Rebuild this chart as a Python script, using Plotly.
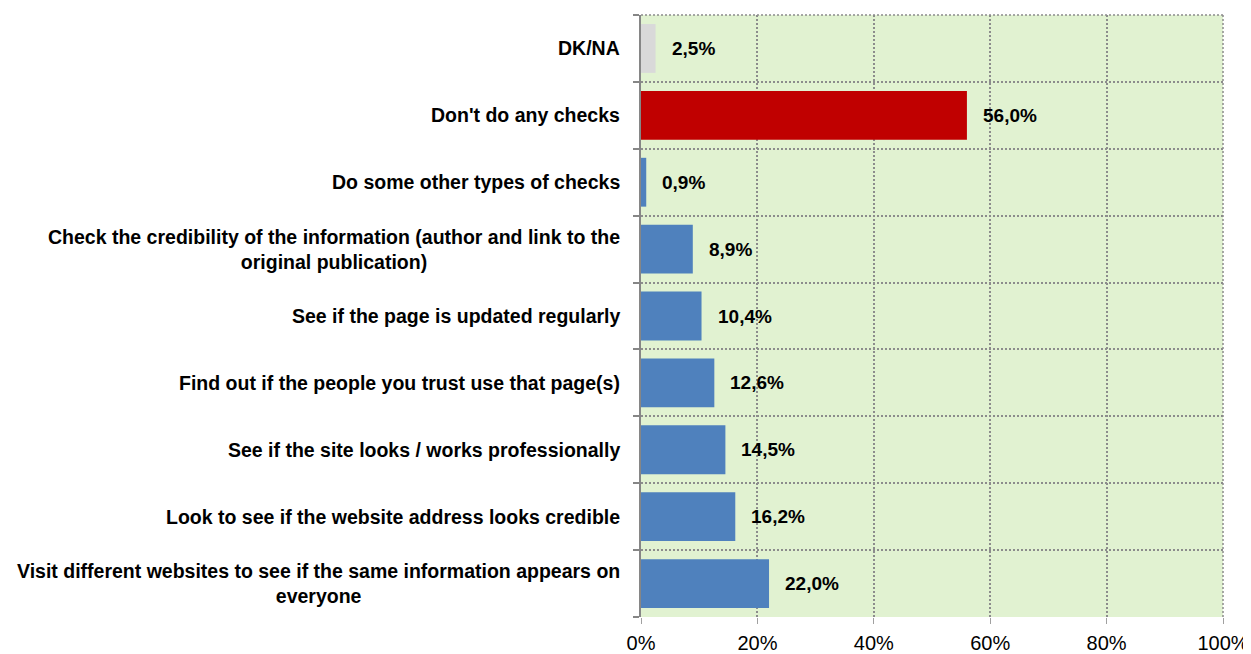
import plotly.graph_objects as go

# Data (bottom to top)
categories = [
    "Visit different websites to see if the same information appears on<br>everyone",
    "Look to see if the website address looks credible",
    "See if the site looks / works professionally",
    "Find out if the people you trust use that page(s)",
    "See if the page is updated regularly",
    "Check the credibility of the information (author and link to the<br>original publication)",
    "Do some other types of checks",
    "Don't do any checks",
    "DK/NA",
]
values = [22.0, 16.2, 14.5, 12.6, 10.4, 8.9, 0.9, 56.0, 2.5]
bar_colors = ["#4F81BD"] * 7 + ["#C00000", "#D9D9D9"]
x_ticks = [0, 20, 40, 60, 80, 100]

FONT = "Liberation Sans, Arial, sans-serif"
GRID = "#8C8C8C"

positions = list(range(len(categories)))

fig = go.Figure()
fig.add_trace(go.Bar(
    x=values,
    y=positions,
    orientation="h",
    marker=dict(color=bar_colors, line=dict(width=0)),
    width=0.73,
    hoverinfo="x",
))

# Data labels
for p, v in zip(positions, values):
    fig.add_annotation(
        x=v, y=p, xref="x", yref="y",
        text="<b>" + f"{v:.1f}%".replace(".", ",") + "</b>",
        showarrow=False, xanchor="left", xshift=14,
        font=dict(family=FONT, size=19, color="#000000"),
    )

# Category labels
for p, c in zip(positions, categories):
    fig.add_annotation(
        x=0, y=p, xref="paper", yref="y",
        text=f"<b>{c}</b>",
        showarrow=False, xanchor="right", align="center", xshift=-19,
        font=dict(family=FONT, size=19.5, color="#000000"),
    )

grid_style = dict(showgrid=True, gridcolor=GRID, gridwidth=1.5, griddash="2px,2px")

fig.update_xaxes(
    range=[0, 100],
    tickvals=x_ticks,
    ticktext=[f"{t}%" for t in x_ticks],
    tickfont=dict(family=FONT, size=20, color="#000000"),
    zeroline=False,
    showline=False,
    ticks="outside", ticklen=6, tickcolor="#A0A0A0", tickwidth=1,
    ticklabelstandoff=2,
    automargin=False,
    **grid_style,
)
fig.update_yaxes(
    range=[-0.5, len(categories) - 0.5],
    tickvals=[i - 0.5 for i in range(len(categories) + 1)],
    showticklabels=False,
    ticks="outside", ticklen=6, tickcolor="#868686", tickwidth=2,
    showline=True, linecolor="#868686", linewidth=2,
    zeroline=False,
    automargin=False,
    **grid_style,
)

# Top and right dotted border
fig.add_shape(type="line", xref="paper", yref="paper", x0=0, x1=1, y0=1, y1=1,
              line=dict(color=GRID, width=1.5, dash="2px,2px"), layer="below")
fig.add_shape(type="line", xref="paper", yref="paper", x0=1, x1=1, y0=0, y1=1,
              line=dict(color=GRID, width=1.5, dash="2px,2px"), layer="below")

# page body adds 8px offset, so the figure is sized to the remaining area
fig.update_layout(
    width=1243, height=646,
    margin=dict(l=633, r=28, t=7, b=37),
    plot_bgcolor="#E1F2D1",
    paper_bgcolor="#FFFFFF",
    showlegend=False,
    font=dict(family=FONT, color="#000000"),
)

fig.write_html("out.html")
